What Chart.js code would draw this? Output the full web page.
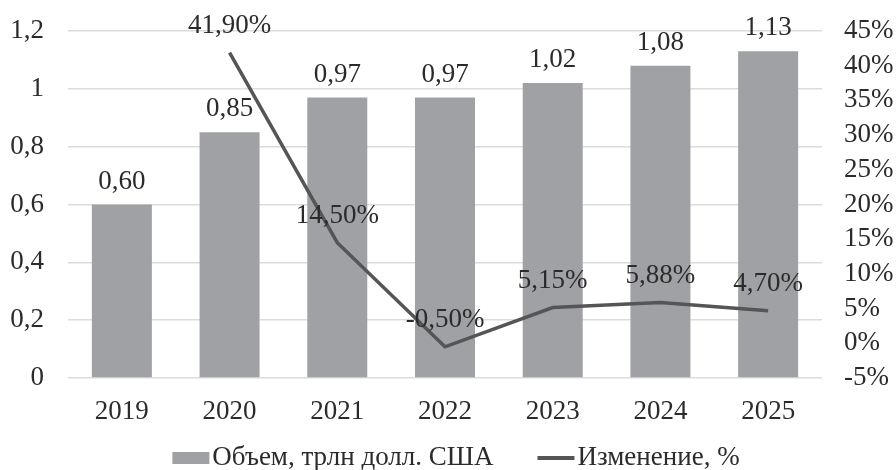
<!DOCTYPE html>
<html>
<head>
<meta charset="utf-8">
<script src="https://cdn.jsdelivr.net/npm/chart.js@4.4.0/dist/chart.umd.min.js"></script>
<style>
  html, body { margin: 0; padding: 0; background: #fff; }
  #wrap { width: 896px; height: 470px; }
</style>
</head>
<body>
<div id="wrap"><canvas id="grafico"></canvas></div>
<script>
// Datos del gráfico
const anios = ['2019', '2020', '2021', '2022', '2023', '2024', '2025'];
const volumen = [0.60, 0.85, 0.97, 0.97, 1.02, 1.08, 1.13];
const cambio = [null, 41.90, 14.50, -0.50, 5.15, 5.88, 4.70];
const nombreVolumen = 'Объем, трлн долл. США';
const nombreCambio = 'Изменение, %';

const FUENTE = '"Liberation Serif", "Times New Roman", serif';
const TAM = 27;
const colorTexto = '#2b2b2b';
const colorBarra = '#a0a1a4';
const colorLinea = '#555555';

const coma = (v, dec) => v.toFixed(dec).replace('.', ',');

// Etiquetas encima de barras y puntos
const etiquetas = {
    id: 'etiquetas',
    afterDatasetsDraw(chart) {
        const ctx = chart.ctx;
        ctx.save();
        ctx.font = TAM + 'px ' + FUENTE;
        ctx.fillStyle = colorTexto;
        ctx.textAlign = 'center';
        ctx.textBaseline = 'middle';
        chart.data.datasets.forEach((ds, i) => {
            const meta = chart.getDatasetMeta(i);
            meta.data.forEach((el, j) => {
                const v = ds.data[j];
                if (v === null || v === undefined) return;
                if (ds.type === 'bar') {
                    ctx.fillText(coma(v, 2), el.x, el.y - 23);
                } else {
                    ctx.fillText(coma(v, 2) + '%', el.x, el.y - 27);
                }
            });
        });
        ctx.restore();
    }
};

// Leyenda dibujada a mano (separación como en el original)
const leyenda = {
    id: 'leyenda',
    afterDraw(chart) {
        const ctx = chart.ctx;
        const y = 458;
        const muestra = 37, hueco = 3, separacion = 44;
        ctx.save();
        ctx.font = TAM + 'px ' + FUENTE;
        ctx.textBaseline = 'middle';
        ctx.textAlign = 'left';
        const items = chart.data.datasets.map(ds => ({
            texto: ds.label,
            tipo: ds.type,
            ancho: ctx.measureText(ds.label).width
        }));
        let total = 0;
        items.forEach((it, i) => {
            total += muestra + hueco + it.ancho + (i > 0 ? separacion : 0);
        });
        let x = 456 - total / 2;
        items.forEach(it => {
            if (it.tipo === 'bar') {
                ctx.fillStyle = colorBarra;
                ctx.fillRect(x, y - 6, muestra, 12);
            } else {
                ctx.strokeStyle = colorLinea;
                ctx.lineWidth = 4;
                ctx.beginPath();
                ctx.moveTo(x, y);
                ctx.lineTo(x + muestra, y);
                ctx.stroke();
            }
            ctx.fillStyle = colorTexto;
            ctx.fillText(it.texto, x + muestra + hueco, y);
            x += muestra + hueco + it.ancho + separacion;
        });
        ctx.restore();
    }
};

// Sin relleno extra de las escalas verticales
const ajustarEje = (ancho) => (scale) => {
    scale.width = ancho;
    scale.paddingTop = 0;
    scale.paddingBottom = 0;
};

new Chart(document.getElementById('grafico'), {
    data: {
        labels: anios,
        datasets: [
            {
                type: 'bar',
                label: nombreVolumen,
                data: volumen,
                backgroundColor: colorBarra,
                yAxisID: 'y',
                barPercentage: 0.557,
                categoryPercentage: 1,
                order: 2
            },
            {
                type: 'line',
                label: nombreCambio,
                data: cambio,
                borderColor: colorLinea,
                backgroundColor: colorLinea,
                borderWidth: 3.5,
                pointRadius: 0,
                tension: 0,
                yAxisID: 'y1',
                order: 1
            }
        ]
    },
    options: {
        responsive: true,
        maintainAspectRatio: false,
        animation: false,
        layout: { padding: { top: 31, bottom: 42, left: 0, right: 0 } },
        plugins: {
            tooltip: { enabled: false },
            legend: { display: false }
        },
        scales: {
            x: {
                grid: { display: false, drawTicks: false },
                border: { display: false },
                ticks: { color: colorTexto, font: { family: FUENTE, size: TAM }, padding: 18 },
                afterFit: (scale) => { scale.height = 50; }
            },
            y: {
                position: 'left',
                min: 0,
                max: 1.2,
                ticks: {
                    stepSize: 0.2,
                    autoSkip: false,
                    padding: 24,
                    color: colorTexto,
                    font: { family: FUENTE, size: TAM },
                    callback: (v) => String(Math.round(v * 10) / 10).replace('.', ',')
                },
                grid: { color: '#dcdcdc', lineWidth: 1.5, drawTicks: false },
                border: { display: false },
                afterFit: ajustarEje(68)
            },
            y1: {
                position: 'right',
                min: -5,
                max: 45,
                ticks: {
                    stepSize: 5,
                    autoSkip: false,
                    padding: 22,
                    color: colorTexto,
                    font: { family: FUENTE, size: TAM },
                    callback: (v) => v + '%'
                },
                grid: { display: false, drawTicks: false },
                border: { display: false },
                afterFit: ajustarEje(74)
            }
        }
    },
    plugins: [etiquetas, leyenda]
});
</script>
</body>
</html>
